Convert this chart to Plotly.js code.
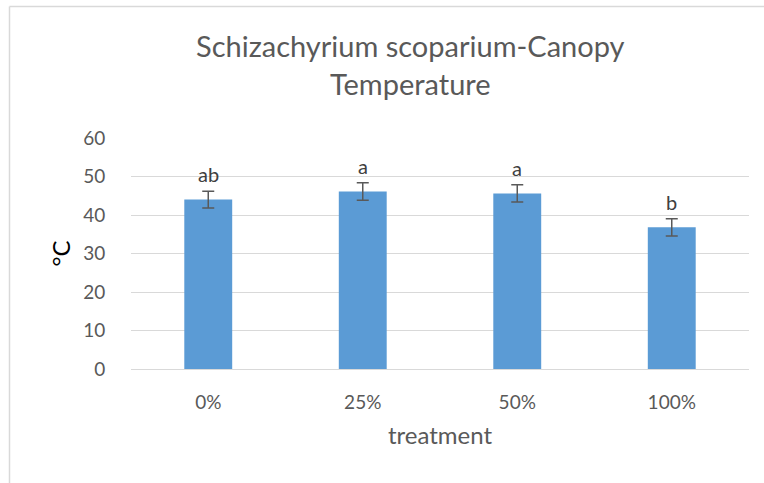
<!DOCTYPE html>
<html>
<head>
<meta charset="utf-8">
<script src="https://cdn.plot.ly/plotly-3.0.1.min.js"></script>
<style>html,body{margin:0;padding:0;background:#fff;}#chart{width:764px;height:483px;}</style>
</head>
<body>
<div id="chart"></div>
<script>
var categories = ["0%", "25%", "50%", "100%"];
var means = [44.0, 46.1, 45.6, 36.8];
var errors = [2.2, 2.25, 2.25, 2.25];
var letters = ["ab", "a", "a", "b"];
var yTicks = [0, 10, 20, 30, 40, 50, 60];

var FONT = "Lato, 'Open Sans', sans-serif";

var trace = {
  type: "bar",
  x: categories,
  y: means,
  marker: {color: "#5b9bd5"},
  error_y: {type: "data", array: errors, visible: true, color: "#595959", thickness: 1.5, width: 6},
  hoverinfo: "none"
};

var annotations = categories.map(function (c, i) {
  return {
    x: c, y: means[i] + errors[i], xref: "x", yref: "y",
    text: letters[i], showarrow: false, yanchor: "bottom", yshift: 3,
    font: {family: FONT, size: 20, color: "#404040"}
  };
});

var layout = {
  width: 764, height: 483,
  margin: {l: 131, r: 15, t: 138, b: 114},
  paper_bgcolor: "#ffffff", plot_bgcolor: "#ffffff",
  showlegend: false,
  bargap: 0.69,
  title: {
    text: "Schizachyrium scoparium-Canopy<br>Temperature",
    font: {family: FONT, size: 29, color: "#595959"},
    x: 0.537, xanchor: "center", xref: "container",
    y: 0.881, yanchor: "middle", yref: "container"
  },
  xaxis: {
    type: "category",
    categoryorder: "array", categoryarray: categories,
    showgrid: false, zeroline: false, showline: false,
    ticks: "outside", ticklen: 16, tickcolor: "rgba(0,0,0,0)",
    tickfont: {family: FONT, size: 19, color: "#595959"},
    title: {text: "treatment", font: {family: FONT, size: 24, color: "#595959"}, standoff: 15}
  },
  yaxis: {
    range: [0, 60], tickvals: yTicks, ticktext: yTicks.map(String),
    showgrid: true, gridcolor: "#d9d9d9", gridwidth: 1,
    zeroline: true, zerolinecolor: "#d9d9d9", zerolinewidth: 1, showline: false,
    ticks: "outside", ticklen: 21, tickcolor: "rgba(0,0,0,0)",
    tickfont: {family: FONT, size: 19, color: "#595959"},
    title: {text: "°C", font: {family: FONT, size: 24, color: "#000000"}, standoff: 5}
  },
  shapes: [
    {type: "line", xref: "paper", yref: "paper", x0: -0.1966, x1: 1.2, y0: 1.5693, y1: 1.5693,
     line: {color: "#d9d9d9", width: 1.5}},
    {type: "line", xref: "paper", yref: "paper", x0: -0.1966, x1: -0.1966, y0: 1.5693, y1: -0.7,
     line: {color: "#d9d9d9", width: 1.5}}
  ],
  annotations: annotations
};

Plotly.newPlot("chart", [trace], layout, {displayModeBar: false, staticPlot: true});
</script>
</body>
</html>
